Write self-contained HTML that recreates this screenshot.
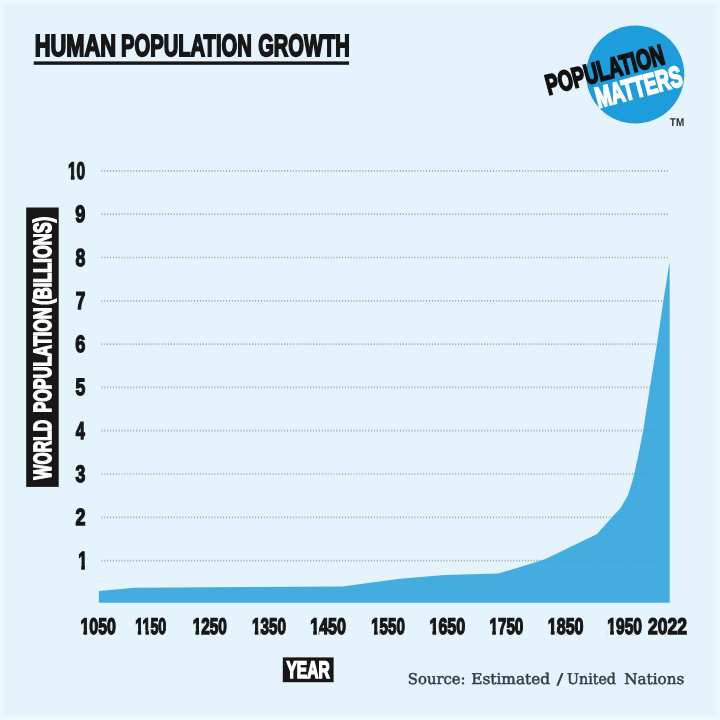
<!DOCTYPE html>
<html lang="en">
<head>
<meta charset="utf-8">
<title>Human Population Growth</title>
<style>
html,body{margin:0;padding:0;background:#e5f3fc;}
body{width:720px;height:720px;overflow:hidden;}
svg{display:block;}
text{stroke-linejoin:miter;}
</style>
</head>
<body>
<svg width="720" height="720" viewBox="0 0 720 720">
  <rect x="0" y="0" width="720" height="720" fill="#edf8fd"/>
  <rect x="3.4" y="3.6" width="712.3" height="712" fill="#e5f3fc"/>
  <g id="title">
    <text text-rendering="geometricPrecision" font-family="'Liberation Sans',sans-serif" font-weight="700"><tspan x="34.64" y="56.00" font-size="30.72" textLength="81.46" lengthAdjust="spacingAndGlyphs" fill="#171717" stroke="#171717" stroke-width="1.9">HUMAN</tspan> <tspan x="120.99" y="56.00" font-size="30.72" textLength="130.87" lengthAdjust="spacingAndGlyphs" fill="#171717" stroke="#171717" stroke-width="1.9">POPULATION</tspan> <tspan x="258.26" y="56.00" font-size="30.72" textLength="91.44" lengthAdjust="spacingAndGlyphs" fill="#171717" stroke="#171717" stroke-width="1.9">GROWTH</tspan></text>
    <rect x="33.7" y="61.4" width="315.4" height="3.4" fill="#171717"/>
  </g>
  <g id="logo">
    <circle cx="635.2" cy="74.5" r="49.1" fill="#1d9ddc"/>
    <g transform="translate(549.5 96.1) rotate(-15)">
      <text text-rendering="geometricPrecision" font-family="'Liberation Sans',sans-serif" font-weight="700"><tspan x="-0.59" y="-1.25" font-size="28.28" textLength="121.59" lengthAdjust="spacingAndGlyphs" fill="#111" stroke="#111" stroke-width="2.0">POPULATION</tspan> <tspan x="44.40" y="24.08" font-size="29.01" textLength="88.33" lengthAdjust="spacingAndGlyphs" fill="#fff" stroke="#fff" stroke-width="2.0">MATTERS</tspan></text>
    </g>
    <text text-rendering="geometricPrecision" x="669.86" y="126.00" font-family="'Liberation Sans',sans-serif" font-weight="700" font-size="11.29" textLength="14.41" lengthAdjust="spacingAndGlyphs" fill="#333">TM</text>
  </g>
  <g id="grid" stroke="#9fa9b3" stroke-width="1.7" stroke-dasharray="1.1 1.8">
    <line x1="101.3" x2="667.8" y1="170.90" y2="170.90"/>
    <line x1="101.3" x2="667.8" y1="214.20" y2="214.20"/>
    <line x1="101.3" x2="667.8" y1="257.50" y2="257.50"/>
    <line x1="101.3" x2="667.8" y1="300.80" y2="300.80"/>
    <line x1="101.3" x2="667.8" y1="344.10" y2="344.10"/>
    <line x1="101.3" x2="667.8" y1="387.40" y2="387.40"/>
    <line x1="101.3" x2="667.8" y1="430.70" y2="430.70"/>
    <line x1="101.3" x2="667.8" y1="474.00" y2="474.00"/>
    <line x1="101.3" x2="667.8" y1="517.30" y2="517.30"/>
    <line x1="101.3" x2="667.8" y1="560.60" y2="560.60"/>
  </g>
  <polygon id="area" fill="#44ade0" points="98.9,602.7 98.9,591 134.4,587.8 250,587.1 342.2,586.4 400,578.8 444.4,574.9 498.3,573.6 545,559.3 597,534 610,519.5 613.3,515.8 620.4,508.3 627.7,495.8 632.4,481.3 634.5,472.9 638.1,456.3 643.3,430 650,386.7 657,343.9 663.4,300.5 669.7,261.7 669.7,602.7"/>
  <clipPath id="ac"><polygon points="98.9,602.7 98.9,591 134.4,587.8 250,587.1 342.2,586.4 400,578.8 444.4,574.9 498.3,573.6 545,559.3 597,534 610,519.5 613.3,515.8 620.4,508.3 627.7,495.8 632.4,481.3 634.5,472.9 638.1,456.3 643.3,430 650,386.7 657,343.9 663.4,300.5 669.7,261.7 669.7,602.7"/></clipPath>
  <g clip-path="url(#ac)" stroke="#2f8fc4" stroke-width="1.6" stroke-dasharray="1.1 1.8" opacity="0.28">
    <line x1="101.3" x2="667.8" y1="257.50" y2="257.50"/>
    <line x1="101.3" x2="667.8" y1="300.80" y2="300.80"/>
    <line x1="101.3" x2="667.8" y1="344.10" y2="344.10"/>
    <line x1="101.3" x2="667.8" y1="387.40" y2="387.40"/>
    <line x1="101.3" x2="667.8" y1="430.70" y2="430.70"/>
    <line x1="101.3" x2="667.8" y1="474.00" y2="474.00"/>
    <line x1="101.3" x2="667.8" y1="517.30" y2="517.30"/>
    <line x1="101.3" x2="667.8" y1="560.60" y2="560.60"/>
  </g>
  <g id="yticks">
    <clipPath id="nf11"><path d="M62.02,152.65H91.09V174.85H62.02ZM62.02,174.75H67.88V181.40H62.02ZM70.90,174.75H74.41V181.40H70.90ZM76.99,174.75H91.09V181.40H76.99Z"/></clipPath><text text-rendering="geometricPrecision" x="68.02" y="179.00" font-family="'Liberation Sans',sans-serif" font-weight="700" font-size="23.96" textLength="17.07" lengthAdjust="spacingAndGlyphs" fill="#171717" stroke="#171717" stroke-width="1.4" clip-path="url(#nf11)">10</text>
    <text text-rendering="geometricPrecision" x="75.37" y="222.00" font-family="'Liberation Sans',sans-serif" font-weight="700" font-size="23.57" textLength="10.05" lengthAdjust="spacingAndGlyphs" fill="#171717" stroke="#171717" stroke-width="1.4">9</text>
    <text text-rendering="geometricPrecision" x="75.53" y="266.00" font-family="'Liberation Sans',sans-serif" font-weight="700" font-size="24.58" textLength="9.84" lengthAdjust="spacingAndGlyphs" fill="#171717" stroke="#171717" stroke-width="1.4">8</text>
    <text text-rendering="geometricPrecision" x="75.82" y="309.00" font-family="'Liberation Sans',sans-serif" font-weight="700" font-size="24.35" textLength="9.62" lengthAdjust="spacingAndGlyphs" fill="#171717" stroke="#171717" stroke-width="1.4">7</text>
    <text text-rendering="geometricPrecision" x="75.34" y="352.00" font-family="'Liberation Sans',sans-serif" font-weight="700" font-size="23.71" textLength="10.09" lengthAdjust="spacingAndGlyphs" fill="#171717" stroke="#171717" stroke-width="1.4">6</text>
    <text text-rendering="geometricPrecision" x="75.40" y="395.00" font-family="'Liberation Sans',sans-serif" font-weight="700" font-size="23.54" textLength="9.81" lengthAdjust="spacingAndGlyphs" fill="#171717" stroke="#171717" stroke-width="1.4">5</text>
    <text text-rendering="geometricPrecision" x="75.86" y="439.00" font-family="'Liberation Sans',sans-serif" font-weight="700" font-size="24.52" textLength="9.06" lengthAdjust="spacingAndGlyphs" fill="#171717" stroke="#171717" stroke-width="1.4">4</text>
    <text text-rendering="geometricPrecision" x="75.59" y="482.00" font-family="'Liberation Sans',sans-serif" font-weight="700" font-size="23.80" textLength="9.83" lengthAdjust="spacingAndGlyphs" fill="#171717" stroke="#171717" stroke-width="1.4">3</text>
    <text text-rendering="geometricPrecision" x="75.53" y="525.00" font-family="'Liberation Sans',sans-serif" font-weight="700" font-size="23.41" textLength="9.94" lengthAdjust="spacingAndGlyphs" fill="#171717" stroke="#171717" stroke-width="1.4">2</text>
    <clipPath id="nf16"><path d="M72.22,541.68H93.18V564.77H72.22ZM72.22,564.67H78.13V571.40H72.22ZM81.28,564.67H84.89V571.40H81.28ZM87.83,564.67H93.18V571.40H87.83Z"/></clipPath><text text-rendering="geometricPrecision" x="78.22" y="569.00" font-family="'Liberation Sans',sans-serif" font-weight="700" font-size="24.84" textLength="8.96" lengthAdjust="spacingAndGlyphs" fill="#171717" stroke="#171717" stroke-width="1.4" clip-path="url(#nf16)">1</text>
  </g>
  <rect x="26.2" y="207.5" width="32.5" height="279.4" fill="#171717"/>
  <g id="ylabel" transform="translate(51.7 480) rotate(-90)">
    <text text-rendering="geometricPrecision" font-family="'Liberation Sans',sans-serif" font-weight="700"><tspan x="0.62" y="-1.02" font-size="24.92" textLength="59.56" lengthAdjust="spacingAndGlyphs" fill="#fff" stroke="#fff" stroke-width="1.6">WORLD</tspan> <tspan x="67.44" y="-1.02" font-size="24.92" textLength="105.12" lengthAdjust="spacingAndGlyphs" fill="#fff" stroke="#fff" stroke-width="1.6">POPULATION</tspan> <tspan x="175.28" y="-1.02" font-size="24.92" textLength="87.86" lengthAdjust="spacingAndGlyphs" fill="#fff" stroke="#fff" stroke-width="1.6">(BILLIONS)</tspan></text>
  </g>
  <g id="xticks">
    <clipPath id="nf27"><path d="M74.44,609.22H121.88V630.00H74.44ZM74.44,629.90H80.35V636.40H74.44ZM83.46,629.90H87.05V636.40H83.46ZM89.78,629.90H121.88V636.40H89.78Z"/></clipPath><text text-rendering="geometricPrecision" x="80.44" y="634.00" font-family="'Liberation Sans',sans-serif" font-weight="700" font-size="22.53" textLength="35.44" lengthAdjust="spacingAndGlyphs" fill="#171717" stroke="#171717" stroke-width="1.4" clip-path="url(#nf27)">1050</text>
    <clipPath id="nf38"><path d="M129.29,609.20H172.27V630.00H129.29ZM129.29,629.90H135.06V636.40H129.29ZM137.84,629.90H141.15V636.40H137.84ZM145.58,629.90H148.89V636.40H145.58ZM150.70,629.90H172.27V636.40H150.70Z"/></clipPath><text text-rendering="geometricPrecision" x="135.29" y="634.00" font-family="'Liberation Sans',sans-serif" font-weight="700" font-size="22.54" textLength="30.99" lengthAdjust="spacingAndGlyphs" fill="#171717" stroke="#171717" stroke-width="1.4" clip-path="url(#nf38)">1150</text>
    <clipPath id="nf49"><path d="M186.69,609.17H232.94V630.00H186.69ZM186.69,629.90H192.56V636.40H186.69ZM195.58,629.90H199.09V636.40H195.58ZM201.18,629.90H232.94V636.40H201.18Z"/></clipPath><text text-rendering="geometricPrecision" x="192.69" y="634.00" font-family="'Liberation Sans',sans-serif" font-weight="700" font-size="22.57" textLength="34.25" lengthAdjust="spacingAndGlyphs" fill="#171717" stroke="#171717" stroke-width="1.4" clip-path="url(#nf49)">1250</text>
    <clipPath id="nf60"><path d="M245.97,609.24H291.87V630.00H245.97ZM245.97,629.90H251.83V636.40H245.97ZM254.83,629.90H258.32V636.40H254.83ZM260.32,629.90H291.87V636.40H260.32Z"/></clipPath><text text-rendering="geometricPrecision" x="251.97" y="634.00" font-family="'Liberation Sans',sans-serif" font-weight="700" font-size="22.51" textLength="33.89" lengthAdjust="spacingAndGlyphs" fill="#171717" stroke="#171717" stroke-width="1.4" clip-path="url(#nf60)">1350</text>
    <clipPath id="nf71"><path d="M304.19,609.29H351.99V630.01H304.19ZM304.19,629.91H310.11V636.40H304.19ZM313.25,629.91H316.86V636.40H313.25ZM318.78,629.91H351.99V636.40H318.78Z"/></clipPath><text text-rendering="geometricPrecision" x="310.19" y="634.00" font-family="'Liberation Sans',sans-serif" font-weight="700" font-size="22.47" textLength="35.80" lengthAdjust="spacingAndGlyphs" fill="#171717" stroke="#171717" stroke-width="1.4" clip-path="url(#nf71)">1450</text>
    <clipPath id="nf82"><path d="M365.21,609.10H410.83V629.99H365.21ZM365.21,629.89H371.06V636.40H365.21ZM374.04,629.89H377.51V636.40H374.04ZM379.57,629.89H410.83V636.40H379.57Z"/></clipPath><text text-rendering="geometricPrecision" x="371.21" y="634.00" font-family="'Liberation Sans',sans-serif" font-weight="700" font-size="22.64" textLength="33.62" lengthAdjust="spacingAndGlyphs" fill="#171717" stroke="#171717" stroke-width="1.4" clip-path="url(#nf82)">1550</text>
    <clipPath id="nf87"><path d="M423.45,609.25H471.21V630.00H423.45ZM423.45,629.90H429.36V636.40H423.45ZM432.50,629.90H436.10V636.40H432.50ZM438.82,629.90H471.21V636.40H438.82Z"/></clipPath><text text-rendering="geometricPrecision" x="429.45" y="634.00" font-family="'Liberation Sans',sans-serif" font-weight="700" font-size="22.50" textLength="35.76" lengthAdjust="spacingAndGlyphs" fill="#171717" stroke="#171717" stroke-width="1.4" clip-path="url(#nf87)">1650</text>
    <clipPath id="nf94"><path d="M483.47,609.12H529.31V629.99H483.47ZM483.47,629.89H489.32V636.40H483.47ZM492.32,629.89H495.80V636.40H492.32ZM498.60,629.89H529.31V636.40H498.60Z"/></clipPath><text text-rendering="geometricPrecision" x="489.47" y="634.00" font-family="'Liberation Sans',sans-serif" font-weight="700" font-size="22.62" textLength="33.84" lengthAdjust="spacingAndGlyphs" fill="#171717" stroke="#171717" stroke-width="1.4" clip-path="url(#nf94)">1750</text>
    <clipPath id="nf105"><path d="M541.80,609.10H589.57V629.99H541.80ZM541.80,629.89H547.72V636.40H541.80ZM550.86,629.89H554.46V636.40H550.86ZM556.74,629.89H589.57V636.40H556.74Z"/></clipPath><text text-rendering="geometricPrecision" x="547.80" y="634.00" font-family="'Liberation Sans',sans-serif" font-weight="700" font-size="22.64" textLength="35.77" lengthAdjust="spacingAndGlyphs" fill="#171717" stroke="#171717" stroke-width="1.4" clip-path="url(#nf105)">1850</text>
    <clipPath id="nf116"><path d="M601.30,609.05H648.07V629.98H601.30ZM601.30,629.88H607.19V636.40H601.30ZM610.25,629.88H613.79V636.40H610.25ZM616.15,629.88H648.07V636.40H616.15Z"/></clipPath><text text-rendering="geometricPrecision" x="607.30" y="634.00" font-family="'Liberation Sans',sans-serif" font-weight="700" font-size="22.69" textLength="34.77" lengthAdjust="spacingAndGlyphs" fill="#171717" stroke="#171717" stroke-width="1.4" clip-path="url(#nf116)">1950</text>
    <text text-rendering="geometricPrecision" x="648.11" y="634.00" font-family="'Liberation Sans',sans-serif" font-weight="700" font-size="22.63" textLength="38.88" lengthAdjust="spacingAndGlyphs" fill="#171717" stroke="#171717" stroke-width="1.4">2022</text>
  </g>
  <rect x="282.8" y="657.4" width="50.8" height="24.8" fill="#171717"/>
    <text text-rendering="geometricPrecision" x="286.46" y="678.00" font-family="'Liberation Sans',sans-serif" font-weight="700" font-size="24.00" textLength="43.15" lengthAdjust="spacingAndGlyphs" fill="#fff" stroke="#fff" stroke-width="1.6">YEAR</text>
  <g id="source">
    <text text-rendering="geometricPrecision" font-family="'DejaVu Serif','Liberation Serif',serif" font-weight="400"><tspan x="407.81" y="684.00" font-size="14.86" textLength="57.82" lengthAdjust="spacingAndGlyphs" fill="#323c45" stroke="#323c45" stroke-width="0.5">Source:</tspan> <tspan x="471.22" y="684.00" font-size="14.86" textLength="78.95" lengthAdjust="spacingAndGlyphs" fill="#323c45" stroke="#323c45" stroke-width="0.5">Estimated</tspan> <tspan x="556.88" y="684.00" font-size="14.86" textLength="6.40" lengthAdjust="spacingAndGlyphs" fill="#323c45" stroke="#323c45" stroke-width="0.5">/</tspan> <tspan x="567.07" y="684.00" font-size="14.86" textLength="48.91" lengthAdjust="spacingAndGlyphs" fill="#323c45" stroke="#323c45" stroke-width="0.5">United</tspan> <tspan x="624.22" y="684.00" font-size="14.86" textLength="60.14" lengthAdjust="spacingAndGlyphs" fill="#323c45" stroke="#323c45" stroke-width="0.5">Nations</tspan></text>
  </g>
</svg>
</body>
</html>
